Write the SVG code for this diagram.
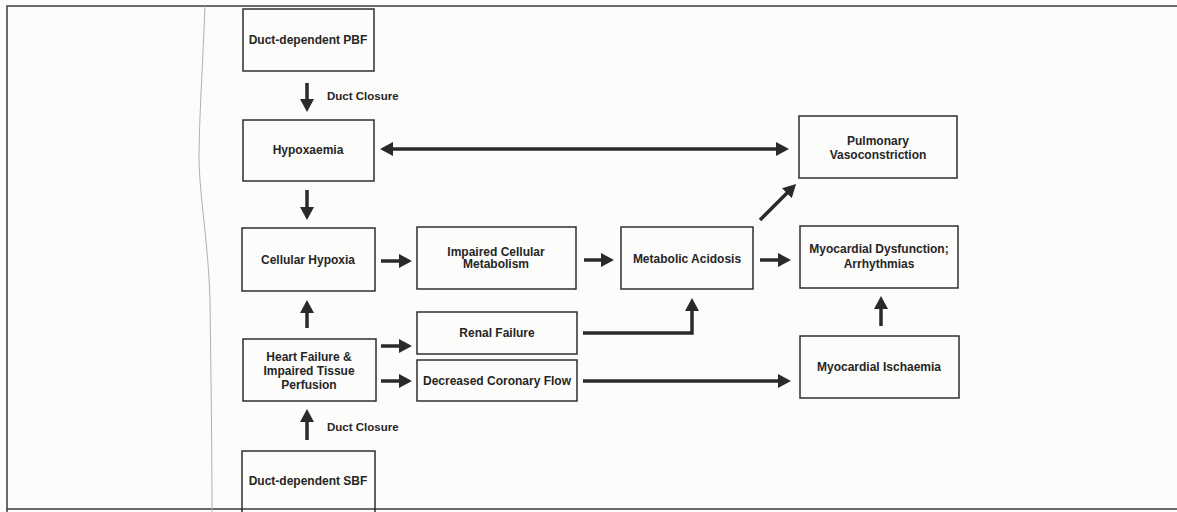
<svg xmlns="http://www.w3.org/2000/svg" width="1177" height="512" viewBox="0 0 1177 512">
<defs>
<style>
.box{fill:none;stroke:#2e2e2e;stroke-width:1.5}
.t{font-family:"Liberation Sans",Arial,sans-serif;font-weight:bold;font-size:12px;fill:#262626;text-anchor:middle;dominant-baseline:central}
.lbl{font-family:"Liberation Sans",Arial,sans-serif;font-weight:bold;font-size:11.5px;fill:#262626;dominant-baseline:central}
.c{fill:none;stroke:#2a2a2a;stroke-width:3.5;marker-end:url(#ah)}
.frame{fill:none;stroke:#3a3a3a;stroke-width:1.5}
</style>
<marker id="ah" markerWidth="14" markerHeight="14" refX="7" refY="7" orient="auto-start-reverse" markerUnits="userSpaceOnUse">
<path d="M0,0 L13,7 L0,14 z" fill="#2a2a2a"/>
</marker>
</defs>
<rect x="0" y="0" width="1177" height="512" fill="#fcfcfa"/>
<g id="frame">
<path class="frame" d="M7,512 L7,6 L1177,6"/>
<path class="frame" d="M7,509 L1177,509"/>
<path d="M205,6 C203,60 199,120 199,160 C200,200 208,240 210,300 C211,380 212,450 212,512" fill="none" stroke="#b0b0b0" stroke-width="1"/>
</g>
<g id="connectors">
<line class="c" x1="307" y1="83" x2="307" y2="106"/>
<line class="c" x1="386" y1="149" x2="783" y2="149" style="marker-start:url(#ah)"/>
<line class="c" x1="307" y1="190" x2="307" y2="214"/>
<line class="c" x1="307" y1="440" x2="307" y2="415"/>
<line class="c" x1="307" y1="328" x2="307" y2="306"/>
<line class="c" x1="381" y1="261" x2="406" y2="261"/>
<line class="c" x1="381" y1="346" x2="406" y2="346"/>
<line class="c" x1="381" y1="381" x2="406" y2="381"/>
<line class="c" x1="584" y1="260" x2="608" y2="260"/>
<polyline class="c" points="583,333 692,333 692,304"/>
<line class="c" x1="583" y1="381" x2="785" y2="381"/>
<line class="c" x1="760" y1="260" x2="785" y2="260"/>
<line class="c" x1="760" y1="220" x2="791.8" y2="188.2"/>
<line class="c" x1="881" y1="326" x2="881" y2="302"/>
<text class="lbl" x="327" y="96">Duct Closure</text>
<text class="lbl" x="327" y="427">Duct Closure</text>
</g>
<g id="pbf"><rect class="box" x="243" y="9" width="131" height="62"/><text class="t" x="308" y="40">Duct-dependent PBF</text></g>
<g id="hypoxaemia"><rect class="box" x="243" y="120" width="131" height="61"/><text class="t" x="308" y="150">Hypoxaemia</text></g>
<g id="cellular-hypoxia"><rect class="box" x="242" y="228" width="133" height="63"/><text class="t" x="308" y="260">Cellular Hypoxia</text></g>
<g id="heart-failure"><rect class="box" x="243" y="339" width="133" height="62"/><text class="t" x="309" y="357">Heart Failure &amp;</text><text class="t" x="309" y="371">Impaired Tissue</text><text class="t" x="309" y="385">Perfusion</text></g>
<g id="sbf"><rect class="box" x="242" y="451" width="133" height="64"/><text class="t" x="308" y="481">Duct-dependent SBF</text></g>
<g id="impaired-metabolism"><rect class="box" x="417" y="227" width="159" height="62"/><text class="t" x="496" y="252">Impaired Cellular</text><text class="t" x="496" y="264">Metabolism</text></g>
<g id="renal-failure"><rect class="box" x="417" y="312" width="160" height="42"/><text class="t" x="497" y="333">Renal Failure</text></g>
<g id="decreased-coronary"><rect class="box" x="417" y="360" width="160" height="41"/><text class="t" x="497" y="381">Decreased Coronary Flow</text></g>
<g id="metabolic-acidosis"><rect class="box" x="621" y="227" width="132" height="62"/><text class="t" x="687" y="259">Metabolic Acidosis</text></g>
<g id="pulmonary"><rect class="box" x="799" y="116" width="158" height="62"/><text class="t" x="878" y="141">Pulmonary</text><text class="t" x="878" y="155">Vasoconstriction</text></g>
<g id="myocardial-dysfunction"><rect class="box" x="800" y="226" width="158" height="62"/><text class="t" x="879" y="249">Myocardial Dysfunction;</text><text class="t" x="879" y="264">Arrhythmias</text></g>
<g id="myocardial-ischaemia"><rect class="box" x="800" y="336" width="159" height="62"/><text class="t" x="879" y="367">Myocardial Ischaemia</text></g>
</svg>
